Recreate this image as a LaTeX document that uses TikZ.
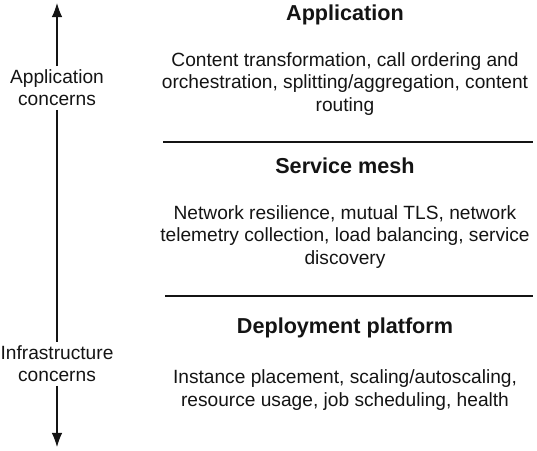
\documentclass[tikz,border=0pt]{standalone}
\usepackage{fontspec}
\setmainfont{Liberation Sans}
\usepackage{xcolor}
\usetikzlibrary{
  arrows.meta,
  positioning
}
\definecolor{InkGray}{RGB}{20, 20, 20}
\tikzset{
    layertitle/.style={font=\fontsize{12.3}{14}\selectfont\bfseries, text=InkGray, inner sep=0pt},
    layerbody/.style={font=\fontsize{10.9}{12.6}\selectfont, text=InkGray, align=center, inner sep=0pt},
    sidelabel/.style={font=\fontsize{10.9}{12.6}\selectfont, text=InkGray, align=center, inner sep=2pt},
    separator/.style={draw=InkGray, line width=0.8pt},
    concernarrow/.style={draw=InkGray, line width=0.6pt, -{Latex[length=8pt, width=6pt]}}
}

\begin{document}
\begin{tikzpicture}[x=0.02cm, y=-0.02cm]
            \useasboundingbox (0,0) rectangle (537,450);
            % layers
            \node[layertitle] (apptitle) at (345,15) {Application};
            \node[layerbody] (appbody) at (345,84) {Content transformation, call ordering and\\orchestration, splitting/aggregation, content\\routing};
            \coordinate (sepa) at (163,142);
            \coordinate (sepb) at (533,142);
            \draw[separator] (sepa) -- (sepb);
            \node[layertitle] (meshtitle) at (345,166) {Service mesh};
            \node[layerbody] (meshbody) at (345,237) {Network resilience, mutual TLS, network\\telemetry collection, load balancing, service\\discovery};
            \coordinate (sepc) at (165,296);
            \coordinate (sepd) at (533,296);
            \draw[separator] (sepc) -- (sepd);
            \node[layertitle] (deploytitle) at (345,328) {Deployment platform};
            \node[layerbody] (deploybody) at (345,390) {Instance placement, scaling/autoscaling,\\resource usage, job scheduling, health};
            % concerns axis
            \node[sidelabel] (appconcern) at (57,88) {Application\\concerns};
            \node[sidelabel] (infraconcern) at (57,364) {Infrastructure\\concerns};
            \coordinate (axistop) at (57,3);
            \coordinate (axisbottom) at (57,447);
            \draw[concernarrow] (appconcern) -- (axistop);
            \draw[InkGray, line width=0.6pt] (appconcern) -- (infraconcern);
            \draw[concernarrow] (infraconcern) -- (axisbottom);
        \end{tikzpicture}
\end{document}
